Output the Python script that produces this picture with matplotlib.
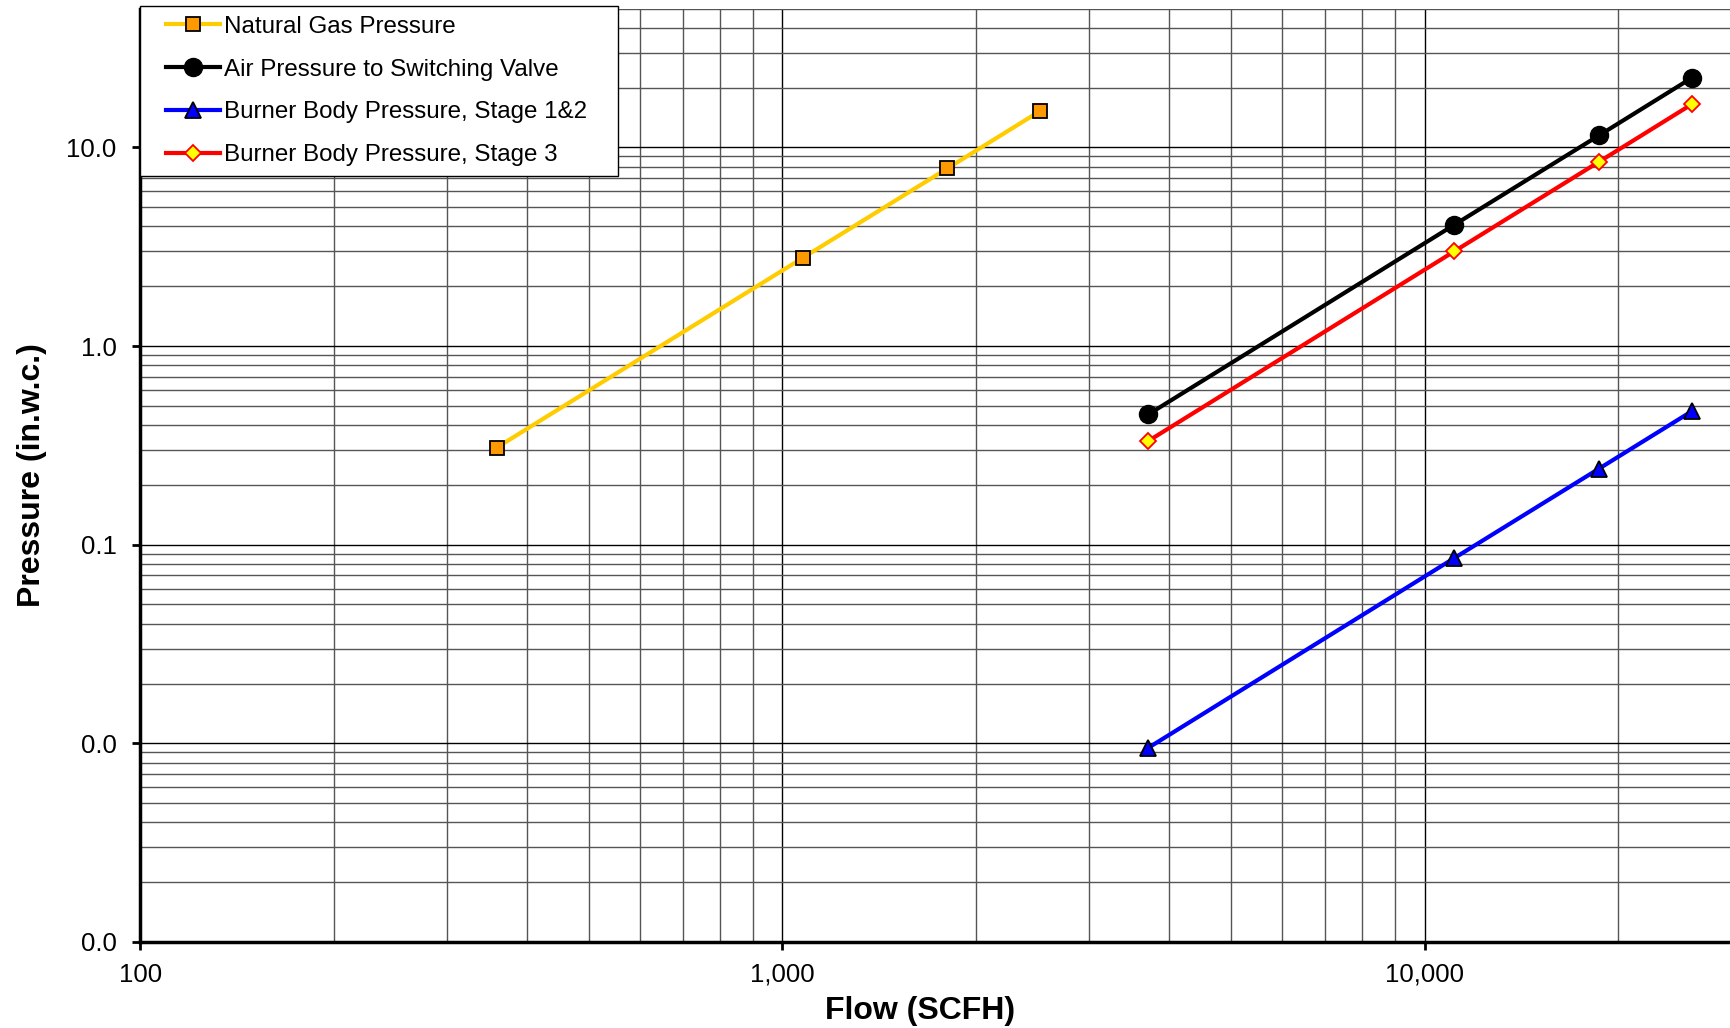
import numpy as np
import matplotlib
matplotlib.use('Agg')
import matplotlib.pyplot as plt
from matplotlib.ticker import LogLocator, FuncFormatter, NullFormatter
from matplotlib.legend_handler import HandlerLine2D

plt.rcParams['font.family'] = ['Liberation Sans', 'DejaVu Sans']

# data
gas_flow = [359, 1076, 1807, 2520]
gas_p = [0.308, 2.78, 7.84, 15.25]

air_flow = [3715, 11130, 18700, 26080]
air_p = [0.453, 4.08, 11.5, 22.4]

stage12_flow = [3715, 11130, 18700, 26080]
stage12_p = [0.0095, 0.0857, 0.2416, 0.470]

stage3_flow = [3715, 11130, 18700, 26080]
stage3_p = [0.333, 3.0, 8.47, 16.5]


# legend handle pushed to the right, to leave a wider left margin in the box
class PaddedHandler(HandlerLine2D):
    def __init__(self, pad, **kw):
        super().__init__(**kw)
        self.pad = pad

    def create_artists(self, legend, orig_handle, xdescent, ydescent,
                       width, height, fontsize, trans):
        return super().create_artists(legend, orig_handle, xdescent - self.pad,
                                      ydescent, width - self.pad, height,
                                      fontsize, trans)


fig = plt.figure(figsize=(17.31, 10.28), dpi=100)
ax = fig.add_axes([0.081, 0.0837, 0.919, 0.908])

ax.plot(gas_flow, gas_p, color='#FFCC00', lw=3, marker='s', ms=10.5,
        mfc='#FF9900', mec='black', mew=1.3, label='Natural Gas Pressure')
ax.plot(air_flow, air_p, color='black', lw=3, marker='o', ms=13,
        mfc='black', mec='black', label='Air Pressure to Switching Valve')
ax.plot(stage12_flow, stage12_p, color='#0000FF', lw=3, marker='^', ms=12,
        mfc='#0000FF', mec='black', mew=1.3, label='Burner Body Pressure, Stage 1&2')
ax.plot(stage3_flow, stage3_p, color='#FF0000', lw=3, marker='D', ms=7.8,
        mfc='#FFFF00', mec='#FF0000', mew=1.3, label='Burner Body Pressure, Stage 3')

ax.set_xscale('log')
ax.set_yscale('log')
ax.set_xlim(100, 30000)
ax.set_ylim(0.001, 50)

ax.xaxis.set_major_locator(LogLocator(base=10))
ax.xaxis.set_minor_locator(LogLocator(base=10, subs=np.arange(2, 10)))
ax.yaxis.set_major_locator(LogLocator(base=10))
ax.yaxis.set_minor_locator(LogLocator(base=10, subs=np.arange(2, 10)))
ax.xaxis.set_major_formatter(FuncFormatter(lambda v, p: '{:,.0f}'.format(v)))
ax.yaxis.set_major_formatter(FuncFormatter(lambda v, p: '%.1f' % v))
ax.xaxis.set_minor_formatter(NullFormatter())
ax.yaxis.set_minor_formatter(NullFormatter())

ax.grid(True, which='major', color='black', lw=1.0)
ax.grid(True, which='minor', color='#555555', lw=1.0)
ax.set_axisbelow(True)

ax.tick_params(which='major', direction='out', length=6, width=2, labelsize=18.5)
ax.tick_params(axis='y', which='major', pad=11)
ax.tick_params(axis='x', which='major', pad=9)
ax.tick_params(which='minor', length=0)

for s in ['top', 'right']:
    ax.spines[s].set_visible(False)
for s in ['left', 'bottom']:
    ax.spines[s].set_linewidth(2.5)

ax.set_xlabel('Flow (SCFH)', fontsize=23, fontweight='bold')
ax.xaxis.set_label_coords(0.49, -0.058)
ax.set_ylabel('Pressure (in.w.c.)', fontsize=23, fontweight='bold', labelpad=14)

fs = 17.4
hpad = 11.5
leg = ax.legend(loc='upper left', bbox_to_anchor=(0, 1.003, 0.3005, 0),
                mode='expand', borderaxespad=0, fontsize=fs, numpoints=1,
                handlelength=(39 + hpad) / fs, labelspacing=0.86,
                handletextpad=0.15, borderpad=0.42, fancybox=False, framealpha=1,
                handler_map={matplotlib.lines.Line2D: PaddedHandler(hpad)})
leg.get_frame().set_edgecolor('black')
leg.get_frame().set_linewidth(1.0)

fig.savefig('out.png', dpi=100)
